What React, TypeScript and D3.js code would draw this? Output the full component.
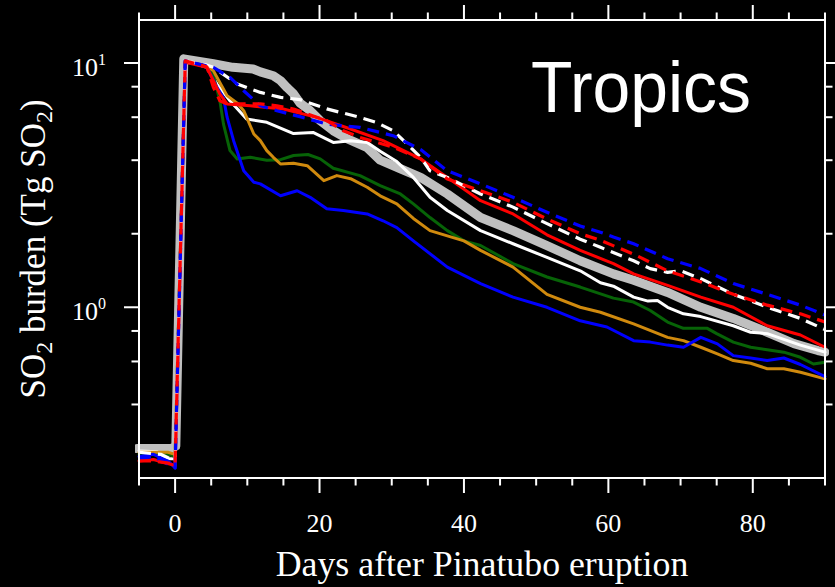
import React from "react";
import * as d3 from "d3";

type Pt = [number, number];

// Tick values
const xMajorTicks = [0, 20, 40, 60, 80];
const xMinorTicks = [-5, 5, 10, 15, 25, 30, 35, 45, 50, 55, 65, 70, 75, 85, 90];
const yMajorTicks = [1, 10];
const yMajorLabels = ["0", "1"];
const yMinorTicks = [0.4, 0.6, 0.8, 2, 4, 6, 8];

// Series: [day, SO2 burden Tg]
const greyObs: Pt[] = [[-5.3,0.264],[-0.5,0.264],[0.1,0.27],[1.2,10.4],[5.3,9.93],[8,9.6],[10.8,9.45],[11.8,9.2],[13.6,8.87],[14.6,8.47],[15.5,7.93],[16.4,7.48],[17.3,6.85],[18.7,6.38],[20.1,5.8],[21.9,5.28],[23.8,4.9],[26.6,4.5],[28.4,4.0],[31.2,3.69],[34,3.4],[37.7,2.91],[42.3,2.33],[46.8,2.06],[51.5,1.79],[56.1,1.55],[60.7,1.37],[63.5,1.29],[68.2,1.15],[72.8,1.0],[77.3,0.9],[82,0.79],[85.7,0.71],[89,0.665],[90,0.655]];

const whiteSolid: Pt[] = [[-5,0.258],[-2.5,0.256],[-1.2,0.24],[0,0.24],[1.4,10.2],[4.4,9.6],[5.8,8.2],[7.6,7.0],[9.9,5.9],[12.7,5.72],[16.4,5.14],[19.1,5.2],[21.9,4.73],[24.3,4.81],[26.6,4.73],[28.4,4.35],[30.7,3.95],[33,3.4],[35.3,2.82],[37.7,2.49],[42.3,2.06],[46.8,1.82],[51.5,1.6],[56.1,1.41],[58.9,1.26],[60.7,1.22],[63.5,1.1],[65.5,1.06],[66.8,1.065],[68.2,1.0],[70.4,0.94],[72.8,0.916],[77.3,0.84],[79.7,0.79],[82,0.78],[86.6,0.7],[90,0.655]];

const whiteDashed: Pt[] = [[-5,0.255],[-2,0.25],[0,0.235],[1.4,10.2],[4.4,9.8],[5.3,9.6],[8.6,8.2],[11.8,7.58],[14.6,7.23],[17.3,7.08],[21,6.49],[25.6,5.99],[27.9,5.71],[30.2,5.28],[32.6,4.52],[34,4.11],[35.3,3.62],[37.7,3.4],[42.3,2.91],[46.8,2.57],[51.5,2.2],[56.1,1.9],[58.9,1.76],[63.5,1.55],[65.8,1.44],[68.2,1.39],[70,1.41],[72.8,1.31],[77.3,1.13],[82,1.0],[86.6,0.9],[90,0.81]];

const blueSolid: Pt[] = [[-5,0.245],[-3,0.25],[-1,0.235],[0,0.22],[1.4,10.2],[4.4,9.6],[5.8,7.95],[6.7,7.2],[7.2,6.0],[8.1,4.81],[9.5,3.62],[10.9,3.25],[11.8,3.2],[14.6,2.86],[16.9,3.0],[18.7,2.82],[21,2.53],[23.3,2.49],[26.6,2.41],[28.8,2.26],[30.7,2.12],[33,1.87],[37.7,1.46],[42.3,1.25],[46.8,1.1],[51.5,1.0],[56.1,0.88],[59.8,0.83],[63.5,0.73],[65.8,0.72],[68.2,0.7],[70.4,0.686],[72.8,0.753],[75.1,0.708],[77.3,0.634],[79.7,0.62],[82,0.605],[84.3,0.62],[86.6,0.583],[90,0.52]];

const blueDashed: Pt[] = [[-5,0.24],[-3,0.245],[0,0.22],[1.4,10.2],[5.3,9.6],[7.6,8.73],[9.5,7.7],[11.8,6.68],[14.1,6.38],[17.3,6.03],[21,5.62],[25.6,5.45],[30.2,5.04],[34,4.42],[37.7,3.62],[42.3,3.2],[46.8,2.82],[51.5,2.45],[56.1,2.15],[58.9,2.03],[60.7,1.94],[63.5,1.82],[68.2,1.58],[72.8,1.44],[77.3,1.25],[82,1.13],[86.6,1.02],[90,0.93]];

const redSolid: Pt[] = [[-5,0.235],[-3,0.238],[0,0.225],[1.4,10.06],[4.4,9.6],[6.2,7.46],[7.2,6.8],[10.4,6.68],[15,6.48],[19.6,5.99],[24.3,5.37],[28.8,4.81],[34,4.05],[37.7,3.4],[42.3,2.73],[46.8,2.41],[51.5,1.98],[56.1,1.71],[60.7,1.51],[63.5,1.37],[68.2,1.23],[72.8,1.1],[77.3,1.0],[82,0.84],[86.6,0.77],[90,0.686]];

const redDashed: Pt[] = [[-5,0.235],[-3,0.235],[0,0.228],[1.4,10.2],[4.4,9.66],[5.3,7.95],[6.2,7.01],[7.2,6.8],[11.8,6.8],[14.1,6.68],[16.4,6.48],[21,5.81],[23.3,5.28],[25.6,4.96],[30.2,4.52],[34,4.05],[37.7,3.35],[42.3,3.0],[46.8,2.69],[51.5,2.3],[56.1,2.0],[58.9,1.88],[63.5,1.65],[68.2,1.41],[72.8,1.27],[77.3,1.13],[82,1.02],[86.6,0.94],[90,0.87]];

const greenSolid: Pt[] = [[-5,0.25],[-1,0.25],[0,0.245],[1.4,10.2],[4.4,9.7],[5.3,8.87],[6.2,7.01],[6.7,5.62],[7.6,4.38],[8.6,4.05],[10.4,4.11],[12.7,4.0],[14.6,4.02],[16.4,4.18],[18.4,4.22],[20.1,4.05],[21.9,3.71],[25.6,3.46],[28.4,3.15],[31.2,2.91],[33,2.65],[35.3,2.33],[37.7,2.06],[40,1.87],[42.3,1.79],[46.8,1.51],[51.5,1.33],[56.1,1.21],[60.7,1.09],[63.5,1.05],[65.8,0.97],[68.2,0.87],[70.4,0.82],[73.7,0.82],[75,0.78],[77.3,0.72],[79.7,0.686],[82,0.67],[84.3,0.655],[86.6,0.624],[88.4,0.586],[90,0.596]];

const orangeSolid: Pt[] = [[-5,0.255],[-1,0.255],[0,0.25],[1.4,10.2],[4.4,9.7],[5.3,9.3],[7.2,7.35],[8.7,6.81],[9.5,6.38],[10.9,5.12],[11.8,4.81],[12.7,4.38],[13.6,4.11],[14.6,3.86],[16.4,3.89],[18.3,3.8],[20.6,3.3],[22.4,3.46],[24.3,3.36],[26.6,3.1],[28.4,2.86],[30.7,2.65],[33,2.31],[35.3,2.06],[37.7,1.96],[40,1.87],[42.3,1.71],[46.8,1.46],[51.5,1.13],[56.1,1.0],[58.9,0.954],[63.5,0.855],[68.2,0.753],[70.4,0.73],[72.8,0.686],[75.1,0.644],[77.3,0.605],[79.7,0.59],[82,0.56],[84.3,0.56],[86.6,0.542],[90,0.509]];

const seriesList = [
  { data: greyObs, color: "#c0c0c0", width: 9, dash: "" },
  { data: whiteSolid, color: "#ffffff", width: 3, dash: "" },
  { data: greenSolid, color: "#076307", width: 3, dash: "" },
  { data: orangeSolid, color: "#d08a0e", width: 3, dash: "" },
  { data: blueSolid, color: "#0000ff", width: 3, dash: "" },
  { data: redSolid, color: "#ff0000", width: 3, dash: "" },
  { data: whiteDashed, color: "#ffffff", width: 3.2, dash: "12,7" },
  { data: blueDashed, color: "#0000ff", width: 3.2, dash: "12,7" },
  { data: redDashed, color: "#ff0000", width: 3.2, dash: "12,7" },
];

const W = 835;
const H = 587;
const L = 139, R = 825, T = 20, B = 478;

export default function App() {
  const x = d3.scaleLinear().domain([-5, 90]).range([L, R]);
  const y = d3.scaleLog().domain([0.2, 15]).range([B, T]);
  const line = d3
    .line<Pt>()
    .x((d) => x(d[0]))
    .y((d) => y(d[1]))
    .curve(d3.curveLinear);
  const serif = "'Liberation Serif', 'Times New Roman', serif";
  const tickW = 2;
  return (
    <svg
      width={W}
      height={H}
      style={{ position: "absolute", left: 0, top: 0, display: "block" }}
    >
      <rect x={0} y={0} width={W} height={H} fill="#000" />
      <defs>
        <clipPath id="plotclip">
          <rect x={L - 4} y={T} width={R - L + 8} height={B - T} />
        </clipPath>
      </defs>
      <g clipPath="url(#plotclip)">
        {seriesList.map((s, i) => (
          <path
            key={i}
            d={line(s.data) || ""}
            fill="none"
            stroke={s.color}
            strokeWidth={s.width}
            strokeDasharray={s.dash || undefined}
            strokeLinecap={s.dash ? "butt" : "round"}
            strokeLinejoin="round"
          />
        ))}
      </g>
      <rect x={L} y={T} width={R - L} height={B - T} fill="none" stroke="#fff" strokeWidth={2} />
      {/* x ticks */}
      {xMajorTicks.map((t) => (
        <g key={"xM" + t}>
          <line x1={x(t)} x2={x(t)} y1={B} y2={B + 15} stroke="#fff" strokeWidth={tickW} />
          <line x1={x(t)} x2={x(t)} y1={T} y2={T - 15} stroke="#fff" strokeWidth={tickW} />
          <text x={x(t)} y={532} fill="#fff" fontFamily={serif} fontSize={26} textAnchor="middle">
            {t}
          </text>
        </g>
      ))}
      {xMinorTicks.map((t) => (
        <g key={"xm" + t}>
          <line x1={x(t)} x2={x(t)} y1={B} y2={B + 7.5} stroke="#fff" strokeWidth={tickW} />
          <line x1={x(t)} x2={x(t)} y1={T} y2={T - 7.5} stroke="#fff" strokeWidth={tickW} />
        </g>
      ))}
      {/* y ticks */}
      {yMajorTicks.map((t, i) => (
        <g key={"yM" + t}>
          <line x1={L} x2={L - 15} y1={y(t)} y2={y(t)} stroke="#fff" strokeWidth={tickW} />
          <line x1={R} x2={R + 15} y1={y(t)} y2={y(t)} stroke="#fff" strokeWidth={tickW} />
          <text x={72} y={y(t) + 13} fill="#fff" fontFamily={serif} fontSize={26}>
            10
            <tspan dy={-11.5} fontSize={16}>
              {yMajorLabels[i]}
            </tspan>
          </text>
        </g>
      ))}
      {yMinorTicks.map((t) => (
        <g key={"ym" + t}>
          <line x1={L} x2={L - 7.5} y1={y(t)} y2={y(t)} stroke="#fff" strokeWidth={tickW} />
          <line x1={R} x2={R + 7.5} y1={y(t)} y2={y(t)} stroke="#fff" strokeWidth={tickW} />
        </g>
      ))}
      {/* axis titles */}
      <text x={(L + R) / 2} y={576} fill="#fff" fontFamily={serif} fontSize={35.8} textAnchor="middle">
        Days after Pinatubo eruption
      </text>
      <text
        transform={`translate(45, ${(T + B) / 2}) rotate(-90)`}
        fill="#fff"
        fontFamily={serif}
        fontSize={35}
        textAnchor="middle"
      >
        SO
        <tspan fontSize={24} dy={7}>2</tspan>
        <tspan dy={-7}> burden (Tg SO</tspan>
        <tspan fontSize={24} dy={7}>2</tspan>
        <tspan dy={-7}>)</tspan>
      </text>
      <text
        x={531}
        y={112}
        fill="#fff"
        fontFamily="'Liberation Sans', Arial, sans-serif"
        fontSize={72}
        textLength={220}
        lengthAdjust="spacingAndGlyphs"
      >
        Tropics
      </text>
    </svg>
  );
}
